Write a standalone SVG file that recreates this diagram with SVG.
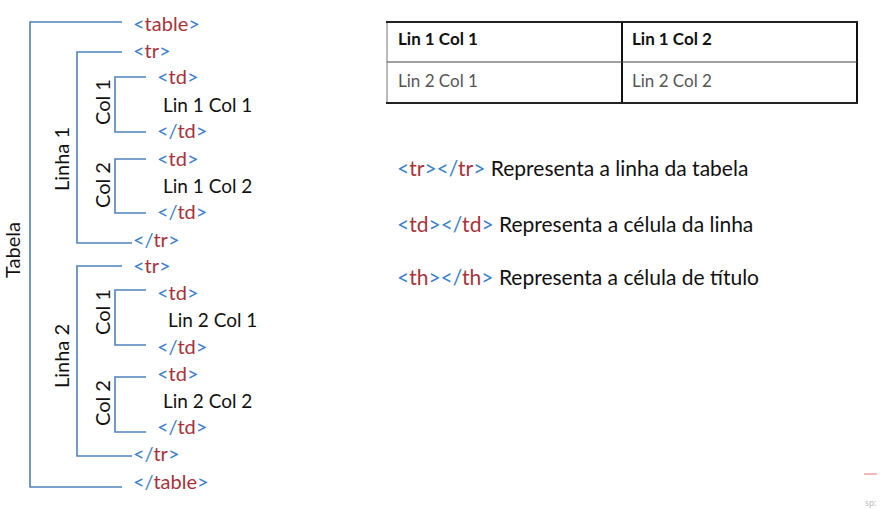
<svg xmlns="http://www.w3.org/2000/svg" width="880" height="509" viewBox="0 0 880 509">
<style>
text{font-family:Lato,"Liberation Sans",sans-serif;font-size:19px;fill:#111}
.t{font-size:20px}
.b{fill:#3b7fd0}
.r{fill:#a8333a}
.lbl{font-size:20px}
.br{fill:none;stroke:#4f81bd;stroke-width:1.6}
.cell{font-size:17px}
.hd{font-weight:bold}
.g{fill:#555}
.leg{font-size:21px}
</style>
<rect width="880" height="509" fill="#fff"/>
<g id="connectors">
<path class="br" d="M122,22 H30 V487 H122"/>
<path class="br" d="M122,52 H77 V243 H132"/>
<path class="br" d="M146,77 H115 V132 H146"/>
<path class="br" d="M146,159 H115 V213 H146"/>
<path class="br" d="M122,266 H77 V456 H132"/>
<path class="br" d="M146,290 H115 V345 H146"/>
<path class="br" d="M146,377 H115 V432 H146"/>
</g>
<g id="tabela"><text class="lbl" transform="translate(20,250) rotate(-90)" text-anchor="middle">Tabela</text></g>
<g id="linha1"><text class="lbl" transform="translate(69,159) rotate(-90)" text-anchor="middle">Linha 1</text></g>
<g id="linha2"><text class="lbl" transform="translate(69,356) rotate(-90)" text-anchor="middle">Linha 2</text></g>
<g id="col1a"><text class="lbl" transform="translate(110,102) rotate(-90)" text-anchor="middle">Col 1</text></g>
<g id="col2a"><text class="lbl" transform="translate(110,185) rotate(-90)" text-anchor="middle">Col 2</text></g>
<g id="col1b"><text class="lbl" transform="translate(110,312) rotate(-90)" text-anchor="middle">Col 1</text></g>
<g id="col2b"><text class="lbl" transform="translate(110,403) rotate(-90)" text-anchor="middle">Col 2</text></g>
<g id="tags">
<text class="t" x="133" y="31"><tspan class="b">&lt;</tspan><tspan class="r">table</tspan><tspan class="b">&gt;</tspan></text>
<text class="t" x="133" y="58"><tspan class="b">&lt;</tspan><tspan class="r">tr</tspan><tspan class="b">&gt;</tspan></text>
<text class="t" x="157" y="84"><tspan class="b">&lt;</tspan><tspan class="r">td</tspan><tspan class="b">&gt;</tspan></text>
<text x="163" y="112">Lin 1 Col 1</text>
<text class="t" x="157" y="138"><tspan class="b">&lt;/</tspan><tspan class="r">td</tspan><tspan class="b">&gt;</tspan></text>
<text class="t" x="157" y="166"><tspan class="b">&lt;</tspan><tspan class="r">td</tspan><tspan class="b">&gt;</tspan></text>
<text x="163" y="193">Lin 1 Col 2</text>
<text class="t" x="157" y="219"><tspan class="b">&lt;/</tspan><tspan class="r">td</tspan><tspan class="b">&gt;</tspan></text>
<text class="t" x="133" y="247"><tspan class="b">&lt;/</tspan><tspan class="r">tr</tspan><tspan class="b">&gt;</tspan></text>
<text class="t" x="133" y="273"><tspan class="b">&lt;</tspan><tspan class="r">tr</tspan><tspan class="b">&gt;</tspan></text>
<text class="t" x="157" y="300"><tspan class="b">&lt;</tspan><tspan class="r">td</tspan><tspan class="b">&gt;</tspan></text>
<text x="168" y="327">Lin 2 Col 1</text>
<text class="t" x="157" y="354"><tspan class="b">&lt;/</tspan><tspan class="r">td</tspan><tspan class="b">&gt;</tspan></text>
<text class="t" x="157" y="381"><tspan class="b">&lt;</tspan><tspan class="r">td</tspan><tspan class="b">&gt;</tspan></text>
<text x="163" y="408">Lin 2 Col 2</text>
<text class="t" x="157" y="434"><tspan class="b">&lt;/</tspan><tspan class="r">td</tspan><tspan class="b">&gt;</tspan></text>
<text class="t" x="133" y="461"><tspan class="b">&lt;/</tspan><tspan class="r">tr</tspan><tspan class="b">&gt;</tspan></text>
<text class="t" x="133" y="489"><tspan class="b">&lt;/</tspan><tspan class="r">table</tspan><tspan class="b">&gt;</tspan></text>
</g>
<g id="table">
<line x1="387" y1="22" x2="387" y2="103" stroke="#777" stroke-width="1"/>
<line x1="622" y1="22" x2="622" y2="103" stroke="#111" stroke-width="2"/>
<line x1="857" y1="22" x2="857" y2="103" stroke="#111" stroke-width="2"/>
<line x1="386" y1="22" x2="858" y2="22" stroke="#222" stroke-width="2"/>
<line x1="387" y1="62" x2="857" y2="62" stroke="#444" stroke-width="1.2"/>
<line x1="386" y1="103" x2="858" y2="103" stroke="#222" stroke-width="2"/>
<text class="cell hd" x="398" y="45">Lin 1 Col 1</text>
<text class="cell hd" x="632" y="45">Lin 1 Col 2</text>
<text class="cell g" x="398" y="87">Lin 2 Col 1</text>
<text class="cell g" x="632" y="87">Lin 2 Col 2</text>
</g>
<g id="legend">
<text class="leg" x="397" y="176"><tspan class="b">&lt;</tspan><tspan class="r">tr</tspan><tspan class="b">&gt;&lt;/</tspan><tspan class="r">tr</tspan><tspan class="b">&gt;</tspan> Representa a linha da tabela</text>
<text class="leg" x="397" y="232"><tspan class="b">&lt;</tspan><tspan class="r">td</tspan><tspan class="b">&gt;&lt;/</tspan><tspan class="r">td</tspan><tspan class="b">&gt;</tspan> Representa a célula da linha</text>
<text class="leg" x="397" y="285"><tspan class="b">&lt;</tspan><tspan class="r">th</tspan><tspan class="b">&gt;&lt;/</tspan><tspan class="r">th</tspan><tspan class="b">&gt;</tspan> Representa a célula de título</text>
</g>
<line x1="864" y1="474" x2="877" y2="474" stroke="#f2a0a0" stroke-width="1.5"/>
<text x="865" y="506" style="font-size:9px;fill:#bbb">sp:</text>
</svg>
